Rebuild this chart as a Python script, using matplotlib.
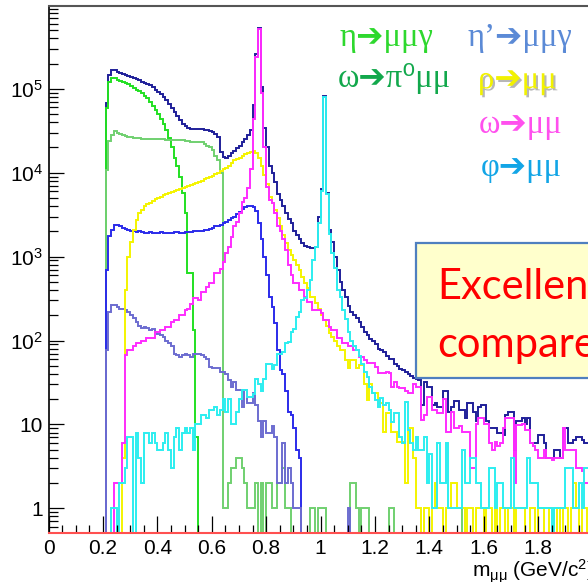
import numpy as np
import matplotlib
matplotlib.use("Agg")
import matplotlib.pyplot as plt
from matplotlib import patheffects
from matplotlib.patches import Rectangle
from matplotlib.ticker import FixedLocator, FixedFormatter, LogLocator, NullFormatter

plt.rcParams['mathtext.fontset'] = 'custom'
plt.rcParams['mathtext.rm'] = 'Liberation Sans'
plt.rcParams['mathtext.it'] = 'Liberation Sans:italic'
plt.rcParams['mathtext.bf'] = 'Liberation Sans:bold'

# ---- data: dimuon mass histograms, 10 MeV bins, counts per bin ----
bin_width = 0.01

# total cocktail (dark blue)
total_m0 = 0.21
total = [6.7e4, 1.45e5, 1.68e5, 1.66e5, 1.6e5, 1.55e5, 1.5e5, 1.46e5, 1.42e5, 1.38e5,
         1.35e5, 1.3e5, 1.27e5, 1.22e5, 1.18e5, 1.14e5, 1.1e5, 1.04e5, 9.8e4, 9.2e4,
         8.7e4, 8.0e4, 7.3e4, 6.6e4, 5.9e4, 5.3e4, 4.7e4, 4.2e4, 3.8e4, 3.6e4,
         3.4e4, 3.3e4, 3.3e4, 3.3e4, 3.3e4, 3.3e4, 3.25e4, 3.2e4, 3.1e4, 3.05e4,
         2.9e4, 2.7e4, 1.75e4, 1.55e4, 1.5e4, 1.6e4, 1.7e4, 1.8e4, 1.95e4, 2.1e4,
         2.3e4, 2.5e4, 2.8e4, 3.2e4, 6.4e4, 2.6e5, 5.3e5, 1.05e5, 3.4e4, 2.0e4,
         1.2e4, 1.0e4, 7.7e3, 5.5e3, 4.7e3, 4.0e3, 3.3e3, 2.8e3, 2.5e3, 2.0e3,
         1.8e3, 1.6e3, 1.45e3, 1.35e3, 1.3e3, 1.27e3, 1.25e3, 1.3e3, 3.0e3, 6.4e3,
         8.1e4, 5.8e3, 2.1e3, 1.5e3, 1.0e3, 700, 500, 400, 330, 260,
         220, 200, 185, 165, 145, 125, 115, 105, 100, 90,
         80, 77, 72, 66, 60, 60, 52, 50, 46, 45,
         42, 40, 38, 36, 35, 34, 17, 32, 28, 28,
         17, 18, 16, 16, 25, 25, 14, 16, 19, 19,
         15, 15, 12, 18, 18, 14, 11, 16, 17, 17,
         11, 9, 9, 9, 8, 8, 7.5, 13, 14, 14,
         5, 11, 11, 12, 10, 12, 6, 6, 6, 7.5,
         7.5, 6, 4, 4, 4, 5, 5, 4, 9, 9,
         6, 6, 6.5, 7, 7, 6.5, 6, 6]

# eta -> mu mu gamma (green)
eta_m0 = 0.21
eta_dalitz = [5.9e4, 1.2e5, 1.33e5, 1.33e5, 1.29e5, 1.25e5, 1.21e5, 1.17e5, 1.13e5, 1.08e5,
              1.03e5, 9.8e4, 9.4e4, 8.9e4, 8.3e4, 7.7e4, 7.0e4, 6.2e4, 5.6e4, 5.0e4,
              4.4e4, 3.8e4, 3.2e4, 2.6e4, 2.0e4, 1.5e4, 1.2e4, 8.9e3, 5.7e3, 3.3e3,
              630, 630, 133, 7]

# omega -> pi0 mu mu (light green)
omega_dalitz_m0 = 0.21
omega_dalitz = [1.07e4, 2.4e4, 2.8e4, 3.1e4, 3.0e4, 2.9e4, 2.8e4, 2.75e4, 2.7e4, 2.65e4,
                2.6e4, 2.6e4, 2.6e4, 2.55e4, 2.55e4, 2.55e4, 2.55e4, 2.5e4, 2.5e4, 2.5e4,
                2.5e4, 2.5e4, 2.45e4, 2.45e4, 2.45e4, 2.45e4, 2.45e4, 2.45e4, 2.45e4, 2.4e4,
                2.4e4, 2.35e4, 2.35e4, 2.35e4, 2.35e4, 2.3e4, 2.2e4, 2.1e4, 2.0e4, 1.85e4,
                1.6e4, 1.4e4, 1.0e4, 1, 1, 2, 3, 3, 4, 4,
                3, 2, 1, 1, 1, 2, 0, 2, 0, 2,
                2, 1, 1, 2, 2, 3, 1, 1, 0, 0,
                0, 0, 0, 0, 0, 1, 1, 0, 1, 1,
                1, 0, 0, 0, 0, 0, 0, 0, 0, 0,
                2, 2, 1, 0, 1, 1, 1, 0, 0, 0,
                0, 0, 0, 0, 1, 1, 0, 0, 0, 0,
                0, 0, 0, 0, 0, 0, 0, 0, 0, 0,
                0, 0, 0, 0, 0, 0, 0, 0, 0, 0,
                0, 1, 0]

# eta' -> mu mu gamma (blue)
etap_m0 = 0.21
etap_dalitz = [690, 1.74e3, 2.1e3, 2.4e3, 2.4e3, 2.3e3, 2.2e3, 2.15e3, 2.1e3, 2.0e3,
               2.0e3, 1.95e3, 2.0e3, 1.95e3, 1.9e3, 1.9e3, 1.95e3, 1.9e3, 1.9e3, 1.9e3,
               1.95e3, 1.9e3, 1.9e3, 1.9e3, 1.9e3, 1.95e3, 1.95e3, 1.9e3, 1.9e3, 1.95e3,
               1.95e3, 1.95e3, 2.0e3, 2.0e3, 2.0e3, 2.0e3, 2.05e3, 2.1e3, 2.15e3, 2.2e3,
               2.3e3, 2.3e3, 2.35e3, 2.5e3, 2.6e3, 2.7e3, 2.9e3, 3.0e3, 3.2e3, 3.4e3,
               3.7e3, 3.9e3, 4.0e3, 4.0e3, 3.9e3, 3.5e3, 2.5e3, 1.6e3, 1.0e3, 600,
               330, 250, 160, 77, 44, 40, 25, 14, 13, 9,
               5, 4]

# second eta' like component (slate blue)
slate_m0 = 0.21
slate = [77, 220, 265, 265, 250, 240, 240, 230, 220, 200,
         185, 167, 150, 140, 146, 140, 133, 138, 127, 120,
         116, 110, 100, 93, 85, 70, 67, 64, 68, 70,
         68, 64, 70, 70, 70, 68, 64, 60, 49, 47,
         47, 47, 42, 42, 40, 34, 28, 32, 26, 26,
         16, 26, 18, 18, 24, 17, 11, 7, 11, 8,
         8, 9.5, 7, 2, 2, 6, 2, 3, 2, 1,
         1, 1, 0, 0, 0, 0, 0, 0, 0, 0,
         0, 0, 0, 0, 0, 0, 0, 0, 0, 1]

# rho -> mu mu (yellow)
rho_m0 = 0.27
rho = [4, 400, 1.0e3, 1.5e3,
       2.1e3, 2.7e3, 3.3e3, 3.6e3, 4.0e3, 4.2e3, 4.4e3, 4.6e3, 4.8e3, 5.0e3,
       5.2e3, 5.4e3, 5.5e3, 5.7e3, 5.9e3, 6.0e3, 6.2e3, 6.4e3, 6.6e3, 6.8e3,
       7.0e3, 7.2e3, 7.4e3, 7.6e3, 7.8e3, 8.0e3, 8.3e3, 8.6e3, 8.9e3, 9.2e3,
       9.6e3, 1.0e4, 1.05e4, 1.1e4, 1.15e4, 1.2e4, 1.3e4, 1.4e4, 1.45e4, 1.5e4,
       1.6e4, 1.65e4, 1.7e4, 1.75e4, 1.8e4, 1.7e4, 1.5e4, 1.2e4, 9.4e3, 7.4e3,
       5.2e3, 4.3e3, 3.6e3, 2.9e3, 2.3e3, 1.8e3, 1.45e3, 1.2e3, 1.05e3, 900,
       800, 700, 575, 480, 420, 333, 333, 280, 240, 200,
       175, 150, 122, 110, 100, 85, 77, 77, 58, 47,
       58, 58, 47, 51, 51, 30, 19.5, 30, 23.5, 23.5,
       18, 18, 8.2, 13.5, 13.5, 8.2, 8.2, 6.2, 6.2, 6.2,
       2, 9, 9, 4, 1, 1, 0, 1, 1, 0,
       1, 2, 1, 1, 0, 1, 1, 2, 2, 1,
       1, 1, 0, 1, 1, 0, 1, 1, 1, 0,
       1, 1, 0, 1, 0, 1, 1, 0, 1, 1,
       0, 1, 1, 1, 0, 0, 1, 1, 0, 1,
       1, 0, 0, 1, 1, 0, 1, 0, 1, 1,
       0, 1, 2, 1, 0, 1, 1, 0]

# omega -> mu mu (magenta)
omega_m0 = 0.24
omega = [2, 2, 2, 6, 67, 77, 77,
         85, 93, 93, 100, 100, 107, 107, 107, 127, 127,
         133, 133, 146, 146, 167, 175, 175, 200, 200, 230,
         240, 270, 320, 320, 300, 380, 380, 440, 480, 480,
         630, 630, 720, 870, 1.1e3, 1.3e3, 1.7e3, 2.3e3, 2.6e3, 3.3e3,
         4.5e3, 5.0e3, 6.5e3, 1.1e4, 4.4e4, 2.4e5, 5.1e5, 8.9e4, 2.0e4, 6.8e3,
         4.7e3, 4.3e3, 3.3e3, 2.3e3, 2.0e3, 1.6e3, 1.2e3, 790, 600, 480,
         480, 400, 400, 333, 290, 290, 230, 230, 230, 210,
         175, 175, 146, 133, 133, 107, 107, 93, 93, 85,
         85, 77, 77, 64, 64, 58, 54, 54, 54, 48,
         41, 41, 41, 42, 41, 28, 32, 28, 27, 27,
         25, 24, 24, 30, 28, 28, 11.3, 13, 21, 21,
         15, 15, 13.5, 13.5, 20, 8.2, 8.2, 14, 9, 9,
         9.5, 8.2, 8.2, 8.2, 3, 3, 10, 11.8, 11.8, 10,
         10, 6, 5, 6.2, 5.5, 6, 9, 11.8, 11.8, 11.8,
         2, 9.8, 9.8, 10, 8.6, 8.6, 6, 5.5, 5, 4,
         4, 5, 4, 4, 3.8, 4, 4, 4, 9, 5,
         5, 5, 5, 3, 3, 2.8, 2, 2]

# phi -> mu mu (cyan)
phi_m0 = 0.23
phi = [1, 1, 0, 2, 2, 3, 7, 7,
       0, 8, 4, 2, 8, 8, 6, 8, 6, 5,
       5, 6, 8, 5, 3, 7, 9, 5, 8, 9,
       8, 9, 5, 10, 10, 13, 13, 12, 15, 15,
       16, 13, 15, 20, 14, 20, 10, 10, 14, 20,
       26, 26, 21, 21, 23, 35, 30, 25, 35, 53,
       53, 46, 51, 70, 70, 73, 93, 97, 127, 139,
       192, 220, 303, 320, 400, 530, 910, 1.3e3, 2.5e3, 6.0e3,
       8.0e4, 5.5e3, 1.85e3, 1.1e3, 740, 400, 330, 230, 180, 125,
       100, 85, 77, 65, 53, 42, 37, 28, 23.5, 19.5,
       16.3, 20.4, 17, 18, 15, 10.8, 13.5, 13.5, 7, 6,
       18.7, 8.6, 6, 5, 7, 5, 5, 7, 2, 4.5,
       1, 1, 6, 2, 2, 6, 1, 1, 1, 1,
       1, 5, 2, 2, 4, 4, 2, 2, 1, 1,
       1, 3, 3, 1, 2, 2, 1, 1, 1, 4,
       1, 1, 1, 1, 1, 4, 2, 2, 2, 1,
       1, 1, 1, 1, 0, 1, 1, 1, 1, 3,
       3, 3, 1, 1, 2, 1, 3, 3]

x_ticks = [0, 0.2, 0.4, 0.6, 0.8, 1.0, 1.2, 1.4, 1.6, 1.8]
x_tick_labels = ['0', '0.2', '0.4', '0.6', '0.8', '1', '1.2', '1.4', '1.6', '1.8']
y_ticks = [1, 10, 1e2, 1e3, 1e4, 1e5]
y_tick_labels = ['1', '10', r'$\mathregular{10^{2}}$', r'$\mathregular{10^{3}}$',
                 r'$\mathregular{10^{4}}$', r'$\mathregular{10^{5}}$']


def draw_hist(ax, m0, counts, color, lw=1.4):
    # ROOT style: empty bins fall to the bottom of the frame
    vals = np.concatenate([[0.0], np.asarray(counts, dtype=float), [0.0]])
    vals = np.where(vals > 0, vals, 1e-3)
    edges = m0 + bin_width * np.arange(-1, len(counts) + 2)
    ax.stairs(vals, edges, baseline=None, color=color, lw=lw)


W, H = 588, 582
fig = plt.figure(figsize=(W / 100, H / 100), dpi=100)
ax = fig.add_axes([48.5 / W, (H - 533.3) / H, 544 / W, 527.3 / H])
ax.set_yscale('log')
ax.set_xlim(0, 2.0)
ax.set_ylim(0.504, 9.7e5)

draw_hist(ax, total_m0, total, '#1f1f99')
draw_hist(ax, eta_m0, eta_dalitz, '#22e022')
draw_hist(ax, omega_dalitz_m0, omega_dalitz, '#70d070')
draw_hist(ax, etap_m0, etap_dalitz, '#2b2bea')
draw_hist(ax, slate_m0, slate, '#6c6cd0')
draw_hist(ax, rho_m0, rho, '#f4f400')
draw_hist(ax, omega_m0, omega, '#ff2cff')
draw_hist(ax, phi_m0, phi, '#2ceef0')

# axes styling (ROOT look)
ax.spines['right'].set_visible(False)
ax.spines['top'].set_color('#555555')
ax.spines['top'].set_linewidth(1.5)
ax.spines['left'].set_linewidth(1.2)
ax.spines['bottom'].set_color('#ff5050')
ax.spines['bottom'].set_linewidth(1.5)

ax.xaxis.set_major_locator(FixedLocator(x_ticks))
ax.xaxis.set_major_formatter(FixedFormatter(x_tick_labels))
ax.xaxis.set_minor_locator(FixedLocator(np.arange(0, 2.0, 0.05)))
ax.yaxis.set_major_locator(FixedLocator(y_ticks))
ax.yaxis.set_major_formatter(FixedFormatter(y_tick_labels))
ax.yaxis.set_minor_locator(LogLocator(base=10, subs=np.arange(2, 10), numticks=20))
ax.yaxis.set_minor_formatter(NullFormatter())

ax.tick_params(axis='x', which='major', direction='in', length=12, width=0.9,
               top=False, labelsize=15, pad=4)
ax.tick_params(axis='x', which='minor', direction='in', length=6, width=0.9, top=False)
ax.tick_params(axis='y', which='major', direction='in', length=11, width=0.9,
               right=False, labelsize=15, pad=4)
ax.tick_params(axis='y', which='minor', direction='in', length=6.5, width=0.9, right=False)
for lab in ax.get_xticklabels() + ax.get_yticklabels():
    lab.set_family('Liberation Sans')

fig.text(472 / W, 1 - 577 / H, r'm$_{\mathregular{μμ}}$ (GeV/c$^{\mathregular{2}}$)',
         fontsize=15, family='Liberation Sans', va='baseline', ha='left')

# legend of channels, coloured text
legend_font = ['Liberation Serif', 'DejaVu Sans']
entries = [('η➔μμγ', '#2ed82e', 340, 38),
           ('ω➔π⁰μμ', '#12a84c', 338, 78),
           ('η’➔μμγ', '#5b8ad6', 468, 38),
           ('ρ➔μμ', '#f2f200', 478, 80),
           ('ω➔μμ', '#ff50ee', 479, 125),
           ('φ➔μμ', '#12a5e6', 481, 168)]
for txt, col, px, py in entries:
    t = fig.text(px / W, 1 - py / H, txt, color=col, fontsize=23.5, family=legend_font,
                 va='center', ha='left')
    if txt.startswith('ρ'):
        t.set_path_effects([patheffects.withSimplePatchShadow(offset=(1.5, -1.5),
                                                              shadow_rgbFace='#888888',
                                                              alpha=0.6)])

# annotation box
fig.add_artist(Rectangle((416 / W, 1 - 378 / H), 0.4, 135 / H, transform=fig.transFigure,
                         facecolor='#ffffcc', edgecolor='#4f7fbf', lw=1.6, zorder=5))
fig.text(437 / W, 1 - 299 / H, 'Excellent', color='#ff0000', fontsize=30, family='Lato',
         va='baseline', ha='left', zorder=6)
fig.text(437 / W, 1 - 357 / H, 'compared', color='#ff0000', fontsize=30, family='Lato',
         va='baseline', ha='left', zorder=6)

fig.savefig('out.png', dpi=100)
